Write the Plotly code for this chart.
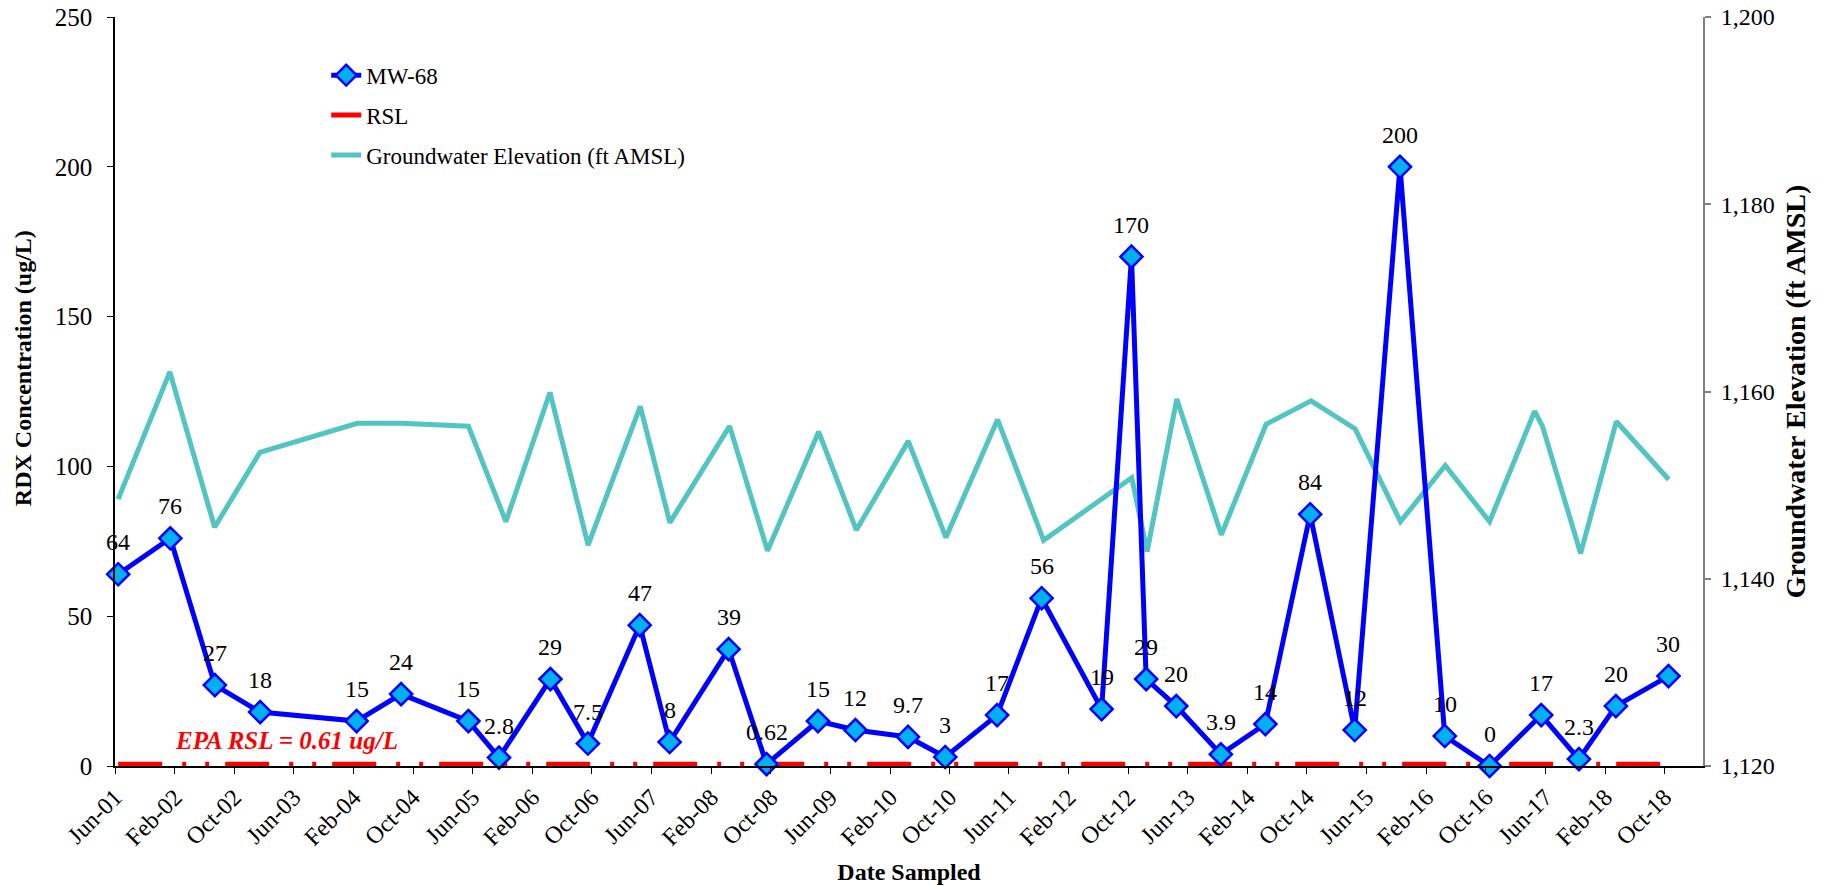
import plotly.graph_objects as go

# ---------------- data ----------------
mw_dates = ['2001-06-14', '2002-01-13', '2002-07-14', '2003-01-15', '2004-02-13', '2004-08-13',
            '2005-05-15', '2005-09-17', '2006-04-15', '2006-09-15', '2007-04-15', '2007-08-15',
            '2008-04-12', '2008-09-14', '2009-04-12', '2009-09-12', '2010-04-15', '2010-09-14',
            '2011-04-14', '2011-10-13', '2012-06-14', '2012-10-14', '2012-12-13', '2013-04-15',
            '2013-10-14', '2014-04-14', '2014-10-14', '2015-04-14', '2015-10-16', '2016-04-16',
            '2016-10-16', '2017-05-15', '2017-10-16', '2018-03-16', '2018-10-17']
mw68 = [64, 76, 27, 18, 15, 24, 15, 2.8, 29, 7.5, 47, 8, 39, 0.62, 15, 12, 9.7, 3, 17, 56,
        19, 170, 29, 20, 3.9, 14, 84, 12, 200, 10, 0, 17, 2.3, 20, 30]

gw_dates = ['2001-06-14', '2002-01-11', '2002-07-13', '2003-01-14', '2004-02-16', '2004-08-13',
            '2005-05-15', '2005-10-15', '2006-04-13', '2006-09-16', '2007-04-17', '2007-08-16',
            '2008-04-16', '2008-09-18', '2009-04-15', '2009-09-16', '2010-04-16', '2010-09-17',
            '2011-04-16', '2011-10-21', '2012-10-15', '2012-12-17', '2013-04-17', '2013-10-16',
            '2014-04-17', '2014-10-18', '2015-04-16', '2015-10-18', '2016-04-18', '2016-10-16',
            '2017-04-18', '2017-05-20', '2017-10-23', '2018-03-18', '2018-10-18']
gw_elev = [1148.5, 1162.1, 1145.5, 1153.5, 1156.6, 1156.6, 1156.3, 1146.1, 1159.9, 1143.6,
           1158.4, 1146.0, 1156.3, 1143.0, 1155.7, 1145.2, 1154.7, 1144.4, 1157.0, 1144.1,
           1150.8, 1142.9, 1159.2, 1144.7, 1156.5, 1159.0, 1156.0, 1146.1, 1152.1, 1146.1,
           1157.9, 1156.3, 1142.7, 1156.8, 1150.6]

rsl_dates = [mw_dates[0], mw_dates[-1]]
rsl_value = [0.61, 0.61]

FONT = "Liberation Serif, Times New Roman, serif"

fig = go.Figure()

fig.add_trace(go.Scatter(
    x=gw_dates, y=gw_elev, yaxis='y', mode='lines', name='Groundwater Elevation (ft AMSL)',
    line=dict(color='#52C4C1', width=5), legendrank=3, legendgroup='c'))

fig.add_trace(go.Scatter(
    x=rsl_dates, y=rsl_value, yaxis='y2', mode='lines', name='RSL',
    line=dict(color='#FF0000', width=5, dash='44px,20px,4px,19px,4px,16px'),
    legendrank=2, legendgroup='b'))

fig.add_trace(go.Scatter(
    x=mw_dates, y=mw68, yaxis='y2', mode='lines+markers', name='MW-68',
    line=dict(color='#0000FF', width=5),
    marker=dict(symbol='diamond', size=17, color='#00B0F0', line=dict(color='#0000FF', width=2.5)),
    cliponaxis=False, legendrank=1, legendgroup='a'))

annotations = []
for d, v in zip(mw_dates, mw68):
    annotations.append(dict(x=d, y=v, xref='x', yref='y2', text=f"{v:g}", showarrow=False,
                            xanchor='center', yanchor='middle',
                            yshift=32, font=dict(family=FONT, size=24, color='black')))

annotations.append(dict(x=0.108, y=0.034, xref='paper', yref='paper', xanchor='center', yanchor='middle',
                        text='<b><i>EPA RSL = 0.61 ug/L</i></b>',
                        showarrow=False, font=dict(family=FONT, size=25, color='#FF0000')))

# left axis title (placed as annotation to match the reference's vertical offset)
annotations.append(dict(x=-0.058, y=0.531, xref='paper', yref='paper', xanchor='center', yanchor='middle',
                        text='<b>RDX Concentration (ug/L)</b>', textangle=-90, showarrow=False,
                        font=dict(family=FONT, size=24, color='black')))

fig.update_layout(
    width=1832, height=886,
    paper_bgcolor='white', plot_bgcolor='white',
    margin=dict(l=115, r=129, t=17, b=120),
    font=dict(family=FONT, size=22, color='black'),
    showlegend=True,
    legend=dict(x=0.133, y=0.951, xanchor='left', yanchor='top', bgcolor='rgba(0,0,0,0)',
                font=dict(family=FONT, size=23, color='black'), tracegroupgap=7,
                traceorder='grouped'),
    xaxis=dict(
        type='date', range=['2001-06-01', '2019-03-07'], automargin=False,
        tick0='2001-06-01', dtick='M8', tickformat='%b-%y', tickangle=-45,
        showline=True, linecolor='black', linewidth=1.5,
        ticks='outside', ticklen=6, tickcolor='black',
        showgrid=False, zeroline=False,
        tickfont=dict(family=FONT, size=24, color='black'),
        title=dict(text='<b>Date Sampled</b>', font=dict(family=FONT, size=24, color='black'), standoff=14),
    ),
    yaxis=dict(
        range=[1120, 1200], dtick=20, tickformat=',d', side='right', automargin=False,
        showline=True, linecolor='#808080', linewidth=2,
        ticks='outside', ticklen=6, tickcolor='#808080', tickwidth=2,
        showgrid=False, zeroline=False, ticklabelstandoff=5,
        tickfont=dict(family=FONT, size=24, color='black'),
        title=dict(text='<b>Groundwater Elevation (ft AMSL)</b>', font=dict(family=FONT, size=28, color='black'), standoff=12),
    ),
    yaxis2=dict(
        range=[0, 250], dtick=50, overlaying='y', side='left', anchor='x', automargin=False,
        showline=True, linecolor='black', linewidth=1.5,
        ticks='outside', ticklen=6, tickcolor='black',
        showgrid=False, zeroline=False, ticklabelstandoff=10,
        tickfont=dict(family=FONT, size=25, color='black'),
    ),
    annotations=annotations,
)

fig.write_html("out.html", config={'displayModeBar': False},
               post_script="document.body.style.margin='0';")
